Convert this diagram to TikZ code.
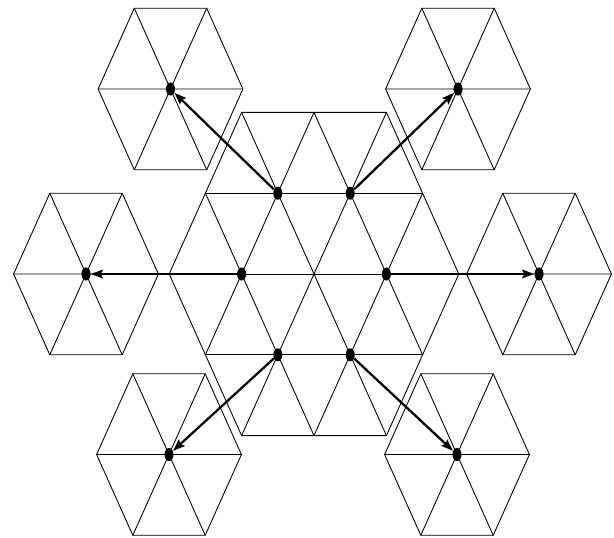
\documentclass[tikz,border=0pt]{standalone}
\usetikzlibrary{arrows.meta,shapes.geometric}
\begin{document}
\begin{tikzpicture}[
        x=0.75pt, y=-0.75pt,
        hexline/.style={draw, line width=0.65pt},
        dot/.style={ellipse, fill=black, inner sep=0pt, minimum width=6.8pt, minimum height=9.8pt},
        link/.style={line width=1.7pt},
        >={Stealth[length=9pt,width=6.5pt,inset=1.5pt]}
        ]
        \useasboundingbox (0,0) rectangle (614,537);

        % centre patch: hexagon of side two, cut into triangles
        \draw[hexline] (169.2,274) -- (241.6,112.4) -- (386.4,112.4) -- (458.8,274)
          -- (386.4,435.6) -- (241.6,435.6) -- cycle;
        \draw[hexline] (205.4,193.2) -- (422.6,193.2) (169.2,274) -- (458.8,274)
          (205.4,354.8) -- (422.6,354.8);
        \draw[hexline] (205.4,354.8) -- (314,112.4) (241.6,435.6) -- (386.4,112.4)
          (314,435.6) -- (422.6,193.2);
        \draw[hexline] (422.6,354.8) -- (314,112.4) (386.4,435.6) -- (241.6,112.4)
          (314,435.6) -- (205.4,193.2);

        % the six outer hexagons
        \foreach \cx/\cy in {170.5/89, 458/89, 86/274, 539/274, 169/454.5, 457/454.5} {
          \draw[hexline] (\cx-72.4,\cy) -- (\cx-36.2,\cy-80.8) -- (\cx+36.2,\cy-80.8)
            -- (\cx+72.4,\cy) -- (\cx+36.2,\cy+80.8) -- (\cx-36.2,\cy+80.8) -- cycle;
          \draw[hexline] (\cx-72.4,\cy) -- (\cx+72.4,\cy)
            (\cx-36.2,\cy-80.8) -- (\cx+36.2,\cy+80.8)
            (\cx+36.2,\cy-80.8) -- (\cx-36.2,\cy+80.8);
        }

        \foreach \n/\px/\py/\qx/\qy in {tl/277.8/193.2/170.5/89, tr/350.2/193.2/458/89,
                                        l/241.6/274/86/274, r/386.4/274/539/274,
                                        bl/277.8/354.8/169/454.5, br/350.2/354.8/457/454.5} {
          \node[dot] (p\n) at (\px,\py) {};
          \node[dot] (q\n) at (\qx,\qy) {};
          \draw[link,->] (p\n) -- (q\n);
        }
      \end{tikzpicture}
\end{document}
